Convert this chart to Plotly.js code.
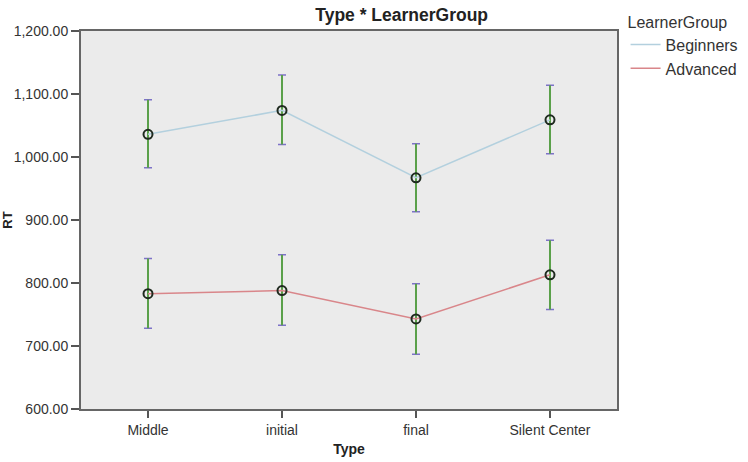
<!DOCTYPE html>
<html>
<head>
<meta charset="utf-8">
<script src="https://cdn.plot.ly/plotly-3.0.1.min.js"></script>
<style>
  html, body { margin: 0; padding: 0; background: #ffffff; }
  #chart { width: 748px; height: 462px; }
</style>
</head>
<body>
<div id="chart"></div>
<script>
// Mean reaction time (RT) per word type, by learner group, with error bars
const types = ["Middle", "initial", "final", "Silent Center"];

const beginnersMean  = [1036, 1074, 967, 1059];
const beginnersUpper = [1091, 1130, 1021, 1114];
const beginnersLower = [983, 1020, 913, 1005];

const advancedMean  = [783, 788, 743, 813];
const advancedUpper = [839, 845, 799, 868];
const advancedLower = [728, 733, 687, 758];

const yTickVals = [600, 700, 800, 900, 1000, 1100, 1200];
const yTickText = ["600.00", "700.00", "800.00", "900.00", "1,000.00", "1,100.00", "1,200.00"];

const beginnersColor = "#b3d0de";
const advancedColor = "#d9868a";
const stemColor = "#5aa04a";
const capColor = "#7d72c8";
const markerEdge = "#1f2a1f";

function diff(a, b) { return a.map((v, i) => v - b[i]); }

function groupTraces(name, mean, upper, lower, color) {
  const plus = diff(upper, mean);
  const minus = diff(mean, lower);
  return [
    // caps (purple) drawn first
    {
      x: types, y: mean, type: "scatter", mode: "markers",
      marker: { size: 1, color: "rgba(0,0,0,0)" },
      error_y: { type: "data", symmetric: false, array: plus, arrayminus: minus,
                 color: capColor, thickness: 1.5, width: 4 },
      showlegend: false, hoverinfo: "skip"
    },
    // green stems over the caps
    {
      x: types, y: mean, type: "scatter", mode: "markers",
      marker: { size: 1, color: "rgba(0,0,0,0)" },
      error_y: { type: "data", symmetric: false, array: plus, arrayminus: minus,
                 color: stemColor, thickness: 2, width: 0 },
      showlegend: false, hoverinfo: "skip"
    },
    // connecting line
    {
      x: types, y: mean, type: "scatter", mode: "lines", name: name,
      line: { color: color, width: 1.5 }
    },
    // open circle markers at the means
    {
      x: types, y: mean, type: "scatter", mode: "markers",
      marker: { symbol: "circle-open", size: 9, color: markerEdge, line: { width: 2, color: markerEdge } },
      showlegend: false
    }
  ];
}

const data = [].concat(
  groupTraces("Beginners", beginnersMean, beginnersUpper, beginnersLower, beginnersColor),
  groupTraces("Advanced", advancedMean, advancedUpper, advancedLower, advancedColor)
);

const layout = {
  width: 748, height: 462,
  margin: { l: 81, r: 131, t: 31, b: 53, autoexpand: false },
  paper_bgcolor: "#ffffff",
  plot_bgcolor: "#ebebeb",
  font: { family: "Liberation Sans, Arial, sans-serif", color: "#333333", size: 14 },
  title: {
    text: "<b>Type * LearnerGroup</b>",
    font: { size: 17.5, color: "#222222" },
    x: 0.537, xanchor: "center", y: 0.967, yanchor: "middle"
  },
  xaxis: {
    type: "category", range: [-0.5, 3.5],
    showgrid: false, zeroline: false,
    showline: true, linecolor: "#666666", linewidth: 2, mirror: true,
    ticks: "outside", ticklen: 7, tickwidth: 2, tickcolor: "#555555",
    tickfont: { size: 14, color: "#333333" },
    title: { text: "<b>Type</b>", font: { size: 14, color: "#222222" }, standoff: 7 }
  },
  yaxis: {
    range: [600, 1200],
    tickvals: yTickVals, ticktext: yTickText,
    showgrid: false, zeroline: false,
    showline: true, linecolor: "#666666", linewidth: 2, mirror: true,
    ticks: "outside", ticklen: 8, tickwidth: 2, tickcolor: "#555555",
    tickfont: { size: 14, color: "#333333" },
    title: { text: "<b>RT</b>", font: { size: 13, color: "#222222" }, standoff: 2 }
  },
  showlegend: true,
  legend: {
    x: 1.016, xanchor: "left", y: 1.064, yanchor: "top",
    bgcolor: "rgba(0,0,0,0)",
    font: { size: 16, color: "#333333" },
    title: { text: "LearnerGroup", font: { size: 16, color: "#333333" } },
    tracegroupgap: 0, itemwidth: 30
  }
};

Plotly.newPlot("chart", data, layout, { displayModeBar: false, staticPlot: true });
</script>
</body>
</html>
